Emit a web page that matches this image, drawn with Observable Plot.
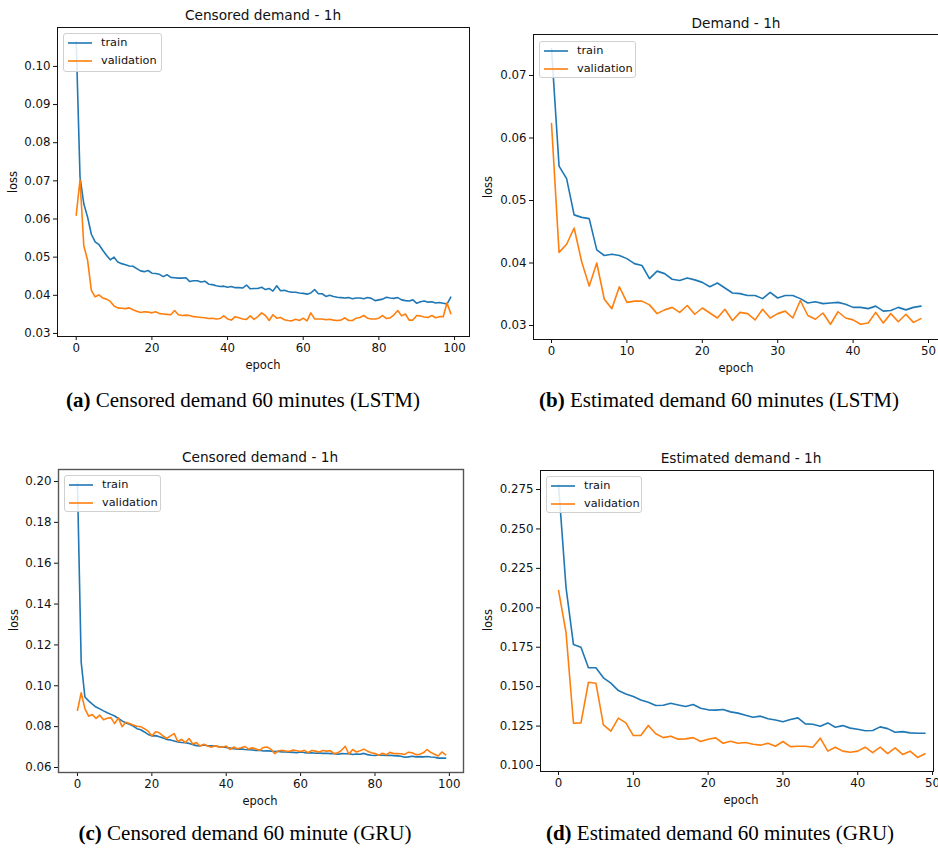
<!DOCTYPE html>
<html>
<head>
<meta charset="utf-8">
<script src="https://cdn.jsdelivr.net/npm/d3@7"></script>
<script src="https://cdn.jsdelivr.net/npm/@observablehq/plot@0.6"></script>
<style>
  body { margin: 0; background: #fff; }
  #root { position: relative; width: 938px; height: 848px; overflow: hidden; background: #fff; font-family: "DejaVu Sans", sans-serif; color: #111; }
  #root svg.plot { position: absolute; overflow: visible; }
  .lbl { position: absolute; transform: translate(-50%, -50%); white-space: nowrap; }
  .title { font-size: 13.7px; }
  .axlab { font-size: 11.5px; }
  .ylab { transform: translate(-50%, -50%) rotate(-90deg); }
  .cap { font-family: "Liberation Serif", "Times New Roman", serif; font-size: 21px; color: #000; }
  .legend { position: absolute; border: 1px solid #d0d0d0; border-radius: 3px; background: rgba(255,255,255,0.85); box-sizing: border-box; }
  .legend .row { position: absolute; left: 0; height: 0; }
  .legend .row svg { position: absolute; left: 3px; top: -2px; }
  .legend .row span { position: absolute; left: 37px; top: -8px; font-size: 11.3px; line-height: 16px; white-space: nowrap; }
</style>
</head>
<body>
<div id="root"></div>
<script>
// ---------- data ----------
const trainA = [0.1065,0.0710,0.0640,0.0605,0.0560,0.0540,0.0533,0.0518,0.0505,0.0493,
0.0500,0.0487,0.0483,0.0480,0.0477,0.0476,0.0470,0.0464,0.0462,0.0465,
0.0458,0.0457,0.0455,0.0449,0.0454,0.0447,0.0446,0.0445,0.0445,0.0446,
0.0436,0.0438,0.0438,0.0435,0.0437,0.0429,0.0428,0.0425,0.0423,0.0424,
0.0421,0.0423,0.0420,0.0420,0.0419,0.0427,0.0417,0.0418,0.0418,0.0421,
0.0415,0.0418,0.0411,0.0425,0.0412,0.0413,0.0410,0.0408,0.0408,0.0406,
0.0405,0.0403,0.0406,0.0415,0.0404,0.0404,0.0397,0.0400,0.0397,0.0395,
0.0394,0.0393,0.0394,0.0391,0.0393,0.0393,0.0391,0.0394,0.0392,0.0386,
0.0388,0.0390,0.0395,0.0393,0.0392,0.0394,0.0388,0.0386,0.0385,0.0388,
0.0379,0.0383,0.0385,0.0382,0.0383,0.0380,0.0381,0.0379,0.0377,0.0395];
const valA = [0.0610,0.0703,0.0530,0.0492,0.0413,0.0396,0.0401,0.0393,0.0390,0.0384,
0.0372,0.0367,0.0366,0.0365,0.0367,0.0362,0.0358,0.0355,0.0357,0.0356,
0.0354,0.0357,0.0352,0.0351,0.0350,0.0349,0.0360,0.0349,0.0347,0.0348,
0.0347,0.0344,0.0343,0.0342,0.0341,0.0339,0.0340,0.0338,0.0339,0.0346,
0.0338,0.0335,0.0344,0.0341,0.0338,0.0337,0.0346,0.0337,0.0344,0.0354,
0.0347,0.0334,0.0349,0.0340,0.0342,0.0336,0.0334,0.0333,0.0337,0.0334,
0.0340,0.0333,0.0354,0.0338,0.0338,0.0338,0.0336,0.0337,0.0335,0.0334,
0.0335,0.0341,0.0334,0.0334,0.0340,0.0342,0.0347,0.0340,0.0338,0.0338,
0.0340,0.0347,0.0339,0.0341,0.0349,0.0360,0.0346,0.0351,0.0335,0.0335,
0.0347,0.0346,0.0343,0.0342,0.0347,0.0341,0.0344,0.0344,0.0380,0.0352];

const trainB = [0.0743,0.0555,0.0535,0.0477,0.0473,0.0471,0.0421,0.0412,0.0414,0.0412,
0.0407,0.0399,0.0396,0.0375,0.0387,0.0383,0.0374,0.0372,0.0376,0.0373,
0.0369,0.0362,0.0368,0.0360,0.0352,0.0351,0.0348,0.0348,0.0343,0.0353,
0.0344,0.0348,0.0348,0.0343,0.0336,0.0338,0.0335,0.0336,0.0337,0.0334,
0.0329,0.0329,0.0327,0.0331,0.0323,0.0324,0.0329,0.0325,0.0329,0.0331];
const valB = [0.0623,0.0417,0.0430,0.0456,0.0402,0.0363,0.0400,0.0342,0.0327,0.0362,
0.0337,0.0339,0.0339,0.0333,0.0319,0.0325,0.0329,0.0321,0.0332,0.0318,
0.0328,0.0320,0.0312,0.0326,0.0308,0.0321,0.0319,0.0309,0.0326,0.0312,
0.0319,0.0323,0.0312,0.0340,0.0316,0.0310,0.0320,0.0302,0.0322,0.0312,
0.0309,0.0302,0.0304,0.0321,0.0304,0.0319,0.0306,0.0318,0.0305,0.0311];

const trainC = [0.1990,0.1116,0.0945,0.0926,0.0910,0.0896,0.0887,0.0877,0.0868,0.0860,
0.0852,0.0840,0.0828,0.0818,0.0812,0.0803,0.0790,0.0785,0.0774,0.0762,
0.0755,0.0756,0.0750,0.0745,0.0737,0.0735,0.0730,0.0725,0.0722,0.0721,
0.0718,0.0712,0.0707,0.0706,0.0710,0.0706,0.0706,0.0705,0.0702,0.0700,
0.0698,0.0695,0.0692,0.0690,0.0691,0.0688,0.0687,0.0686,0.0684,0.0684,
0.0681,0.0682,0.0680,0.0678,0.0679,0.0676,0.0676,0.0675,0.0674,0.0672,
0.0676,0.0673,0.0671,0.0672,0.0670,0.0671,0.0669,0.0670,0.0668,0.0668,
0.0665,0.0668,0.0667,0.0668,0.0664,0.0666,0.0665,0.0669,0.0663,0.0660,
0.0659,0.0661,0.0660,0.0659,0.0660,0.0658,0.0657,0.0655,0.0650,0.0652,
0.0655,0.0652,0.0653,0.0652,0.0654,0.0651,0.0650,0.0646,0.0646,0.0646];
const valC = [0.0880,0.0966,0.0888,0.0851,0.0859,0.0840,0.0856,0.0834,0.0841,0.0844,
0.0815,0.0843,0.0800,0.0822,0.0815,0.0808,0.0802,0.0800,0.0790,0.0778,
0.0754,0.0775,0.0770,0.0755,0.0742,0.0755,0.0766,0.0727,0.0738,0.0722,
0.0742,0.0715,0.0722,0.0705,0.0714,0.0705,0.0699,0.0706,0.0701,0.0699,
0.0705,0.0688,0.0700,0.0692,0.0697,0.0703,0.0690,0.0696,0.0691,0.0684,
0.0698,0.0700,0.0690,0.0668,0.0681,0.0684,0.0681,0.0679,0.0685,0.0682,
0.0678,0.0684,0.0673,0.0683,0.0680,0.0676,0.0683,0.0680,0.0682,0.0668,
0.0672,0.0684,0.0704,0.0665,0.0688,0.0676,0.0682,0.0690,0.0680,0.0672,
0.0668,0.0660,0.0670,0.0662,0.0674,0.0668,0.0668,0.0667,0.0664,0.0675,
0.0672,0.0663,0.0665,0.0672,0.0688,0.0674,0.0665,0.0656,0.0676,0.0662];

const trainD = [0.2780,0.2130,0.1767,0.1750,0.1620,0.1620,0.1556,0.1522,0.1475,0.1454,
0.1437,0.1416,0.1401,0.1380,0.1382,0.1395,0.1384,0.1374,0.1387,0.1363,
0.1353,0.1351,0.1355,0.1340,0.1332,0.1319,0.1306,0.1313,0.1296,0.1289,
0.1277,0.1292,0.1302,0.1264,0.1262,0.1249,0.1270,0.1243,0.1253,0.1237,
0.1230,0.1220,0.1222,0.1245,0.1234,0.1211,0.1215,0.1207,0.1205,0.1205];
const valD = [0.2110,0.1845,0.1268,0.1270,0.1528,0.1522,0.1258,0.1218,0.1300,0.1270,
0.1190,0.1190,0.1254,0.1201,0.1177,0.1186,0.1167,0.1169,0.1177,0.1152,
0.1167,0.1175,0.1141,0.1154,0.1141,0.1146,0.1135,0.1129,0.1141,0.1122,
0.1152,0.1120,0.1122,0.1122,0.1116,0.1173,0.1091,0.1116,0.1091,0.1084,
0.1091,0.1116,0.1082,0.1116,0.1076,0.1112,0.1070,0.1091,0.1051,0.1074];

const xTicks100 = [0, 20, 40, 60, 80, 100];
const xTicks50 = [0, 10, 20, 30, 40, 50];
const yTicksA = [0.03, 0.04, 0.05, 0.06, 0.07, 0.08, 0.09, 0.10];
const yTicksB = [0.03, 0.04, 0.05, 0.06, 0.07];
const yTicksC = [0.06, 0.08, 0.10, 0.12, 0.14, 0.16, 0.18, 0.20];
const yTicksD = [0.100, 0.125, 0.150, 0.175, 0.200, 0.225, 0.250, 0.275];

const titles = ["Censored demand - 1h", "Demand - 1h", "Censored demand - 1h", "Estimated demand - 1h"];
const captionLetters = ["(a)", "(b)", "(c)", "(d)"];
const captionTexts = [" Censored demand 60 minutes (LSTM)", " Estimated demand 60 minutes (LSTM)",
                      " Censored demand 60 minute (GRU)", " Estimated demand 60 minutes (GRU)"];
const seriesNames = ["train", "validation"];
const seriesColors = ["#1f77b4", "#ff7f0e"];

// ---------- drawing ----------
const root = document.getElementById("root");

function panel(cfg) {
  const toRows = (arr, s) => arr.map((v, i) => ({epoch: i, loss: v, series: s}));
  const rows = [...toRows(cfg.train, "train"), ...toRows(cfg.val, "validation")];
  const svg = Plot.plot({
    width: cfg.w, height: cfg.h,
    marginLeft: cfg.ml, marginRight: cfg.mr, marginTop: cfg.mt, marginBottom: cfg.mb,
    style: {fontFamily: "DejaVu Sans", fontSize: "11.8px", color: "#111", background: "transparent", overflow: "visible"},
    x: {domain: cfg.xd, ticks: cfg.xt, tickFormat: d => String(d), tickSize: 4, tickPadding: 3, label: null},
    y: {domain: cfg.yd, ticks: cfg.yt, tickFormat: d3.format(cfg.yf), tickSize: 4, tickPadding: 3, label: null},
    color: {domain: seriesNames, range: seriesColors},
    marks: [
      Plot.line(rows, {x: "epoch", y: "loss", z: "series", stroke: "series", strokeWidth: 1.6}),
      Plot.frame({stroke: cfg.frameColor || "#111", strokeWidth: cfg.frameWidth || 1})
    ]
  });
  svg.classList.add("plot");
  svg.style.left = cfg.left + "px";
  svg.style.top = cfg.top + "px";
  root.appendChild(svg);
}

function label(text, x, y, cls) {
  const d = document.createElement("div");
  d.className = "lbl " + cls;
  d.textContent = text;
  d.style.left = x + "px";
  d.style.top = y + "px";
  root.appendChild(d);
  return d;
}

function legend(left, top, w, h) {
  const box = document.createElement("div");
  box.className = "legend";
  Object.assign(box.style, {left: left + "px", top: top + "px", width: w + "px", height: h + "px"});
  seriesNames.forEach((name, i) => {
    const row = document.createElement("div");
    row.className = "row";
    row.style.top = (9 + i * 18) + "px";
    row.innerHTML = `<svg width="26" height="4"><line x1="1" y1="2" x2="25" y2="2" stroke="${seriesColors[i]}" stroke-width="1.6"/></svg><span>${name}</span>`;
    box.appendChild(row);
  });
  root.appendChild(box);
}

function caption(i, x, y) {
  const d = document.createElement("div");
  d.className = "lbl cap";
  const b = document.createElement("b");
  b.textContent = captionLetters[i];
  d.appendChild(b);
  d.appendChild(document.createTextNode(captionTexts[i]));
  d.style.left = x + "px";
  d.style.top = y + "px";
  root.appendChild(d);
}

// (a)
panel({train: trainA, val: valA, left: 0, top: 0, w: 480, h: 380, ml: 57, mr: 11, mt: 27, mb: 44,
       xd: [-4.95, 103.95], yd: [0.0292, 0.1102], xt: xTicks100, yt: yTicksA, yf: ".2f"});
// (b)
panel({train: trainB, val: valB, left: 480, top: 0, w: 462, h: 380, ml: 53, mr: 3, mt: 34, mb: 41,
       xd: [-2.39, 51.46], yd: [0.02776, 0.07656], xt: xTicks50, yt: yTicksB, yf: ".2f"});
// (c)
panel({train: trainC, val: valC, left: 0, top: 440, w: 480, h: 380, ml: 58, mr: 17, mt: 29, mb: 48,
       xd: [-5.1, 103.8], yd: [0.05755, 0.20587], xt: xTicks100, yt: yTicksC, yf: ".2f",
       frameColor: "#555", frameWidth: 1.4});
// (d)
panel({train: trainD, val: valD, left: 480, top: 440, w: 458, h: 380, ml: 60, mr: 5, mt: 30, mb: 49,
       xd: [-2.41, 50.13], yd: [0.0962, 0.28705], xt: xTicks50, yt: yTicksD, yf: ".3f"});

// titles
label(titles[0], 263, 15, "title");
label(titles[1], 736, 23, "title");
label(titles[2], 260, 457, "title");
label(titles[3], 741, 458, "title");

// axis labels
label("loss", 13, 182, "axlab ylab");
label("loss", 488, 187, "axlab ylab");
label("loss", 14, 620, "axlab ylab");
label("loss", 488, 620, "axlab ylab");
label("epoch", 263, 365, "axlab");
label("epoch", 736, 368, "axlab");
label("epoch", 260, 801, "axlab");
label("epoch", 741, 800, "axlab");

// legends
legend(63, 33, 99, 39);
legend(539, 41, 97, 37);
legend(64, 475, 97, 37);
legend(546, 476, 96, 37);

// captions
caption(0, 243, 400);
caption(1, 719, 400);
caption(2, 245, 833);
caption(3, 720, 833);
</script>
</body>
</html>
